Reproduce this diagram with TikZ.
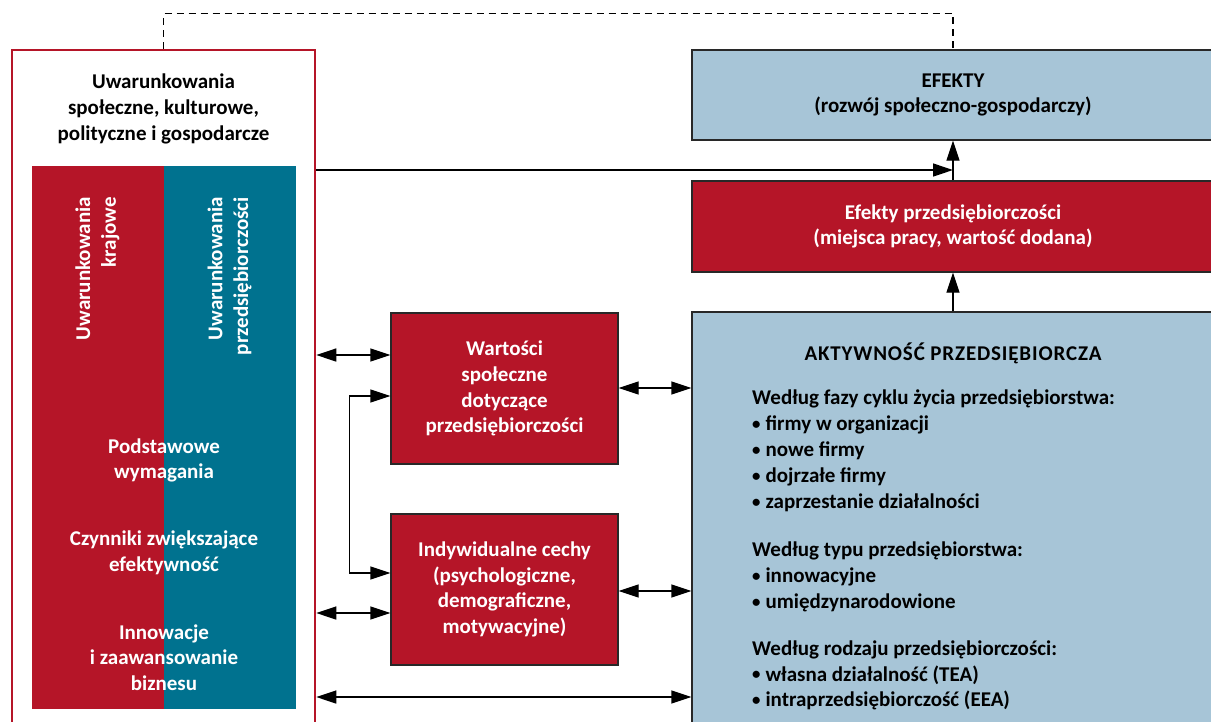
\documentclass[tikz,border=0pt]{standalone}
\usepackage{fontspec}
\setmainfont{Carlito}
\usetikzlibrary{arrows.meta}
\definecolor{cred}{RGB}{181,21,40}
\definecolor{cteal}{RGB}{0,114,143}
\definecolor{cblue}{RGB}{167,197,215}
\definecolor{cline}{RGB}{40,40,40}
\newcommand{\blt}{\raisebox{1.2pt}{\scalebox{0.8}{•}}\hspace{5pt}}
\begin{document}
\begin{tikzpicture}[x=1pt,y=-1pt,
  font=\bfseries\fontsize{21}{25.7}\selectfont,
  rectbox/.style={draw=cline, line width=1.3pt, inner sep=0pt, align=center},
  arr/.style={-{Triangle[length=20pt,width=13pt]}, line width=1.3pt, draw=black},
  dbl/.style={{Triangle[length=20pt,width=13pt]}-{Triangle[length=20pt,width=13pt]}, line width=1.3pt, draw=black},
  wtext/.style={text=white, inner sep=0pt, align=center}]
\useasboundingbox (0,0) rectangle (1211,721);

% left outer box
\node[draw=cred, line width=2.5pt, minimum width=303pt, minimum height=700pt, inner sep=0pt] (outer) at (163.5,400) {};
\node[inner sep=0pt, align=center] (title) at (163.5,109) {Uwarunkowania\\społeczne, kulturowe,\\polityczne i gospodarcze};
\fill[cred] (32,166) rectangle (164,709);
\fill[cteal] (164,166) rectangle (296,709);
\node[wtext, rotate=90, anchor=east, align=right] (kraj) at (97.5,197) {Uwarunkowania\\krajowe};
\node[wtext, rotate=90, anchor=east, align=right] (przeds) at (229.5,197) {Uwarunkowania\\przedsiębiorczości};
\node[wtext] (podst) at (164,460.5) {Podstawowe\\wymagania};
\node[wtext] (czyn) at (164,552.5) {Czynniki zwiększające\\efektywność};
\node[wtext] (innow) at (164,657.5) {Innowacje\\i zaawansowanie\\biznesu};

% right boxes
\node[rectbox, fill=cblue, minimum width=522pt, minimum height=90pt] (efekty) at (953,95) {EFEKTY\\(rozwój społeczno-gospodarczy)};
\node[rectbox, fill=cred, text=white, minimum width=522pt, minimum height=91pt] (efpr) at (953,226.5) {Efekty przedsiębiorczości\\(miejsca pracy, wartość dodana)};
\node[rectbox, fill=cblue, minimum width=522pt, minimum height=430pt] (aktyw) at (953,527) {};
\node[inner sep=0pt] (akttitle) at (953,353) {\addfontfeature{LetterSpace=4}AKTYWNOŚĆ PRZEDSIĘBIORCZA};
\node[inner sep=0pt, align=left, anchor=north west, font=\bfseries\fontsize{21}{25.9}\selectfont] (aktlist) at (752,390) {Według fazy cyklu życia przedsiębiorstwa:\\
\blt firmy w organizacji\\
\blt nowe firmy\\
\blt dojrzałe firmy\\
\blt zaprzestanie działalności\\[22pt]
Według typu przedsiębiorstwa:\\
\blt innowacyjne\\
\blt umiędzynarodowione\\[21pt]
Według rodzaju przedsiębiorczości:\\
\blt własna działalność (TEA)\\
\blt intraprzedsiębiorczość (EEA)};

% middle boxes
\node[rectbox, fill=cred, text=white, minimum width=227pt, minimum height=151pt] (wart) at (504.5,388.5) {Wartości\\społeczne\\dotyczące\\przedsiębiorczości};
\node[rectbox, fill=cred, text=white, minimum width=227pt, minimum height=151pt] (indyw) at (504.5,589.5) {Indywidualne cechy\\(psychologiczne,\\demograficzne,\\motywacyjne)};

% connectors
\draw[line width=1.3pt, dash pattern=on 7pt off 5pt] (outer.north) -- ++(0,-35) -| (efekty.north);
\draw[arr] (outer.east |- 0,170) -- (efekty.south |- 0,170);
\draw[arr] (efpr.north) -- (efekty.south);
\draw[arr] (aktyw.north) -- (efpr.south);
\draw[dbl] (outer.east |- 0,355) -- (wart.west |- 0,355);
\draw[dbl] (wart.west |- 0,396) -- ++(-41,0) |- (indyw.west |- 0,573);
\draw[dbl] (outer.east |- 0,613) -- (indyw.west |- 0,613);
\draw[dbl] (wart.east |- 0,388) -- (aktyw.west |- 0,388);
\draw[dbl] (indyw.east |- 0,591) -- (aktyw.west |- 0,591);
\draw[dbl] (outer.east |- 0,697) -- (aktyw.west |- 0,697);
\end{tikzpicture}
\end{document}
